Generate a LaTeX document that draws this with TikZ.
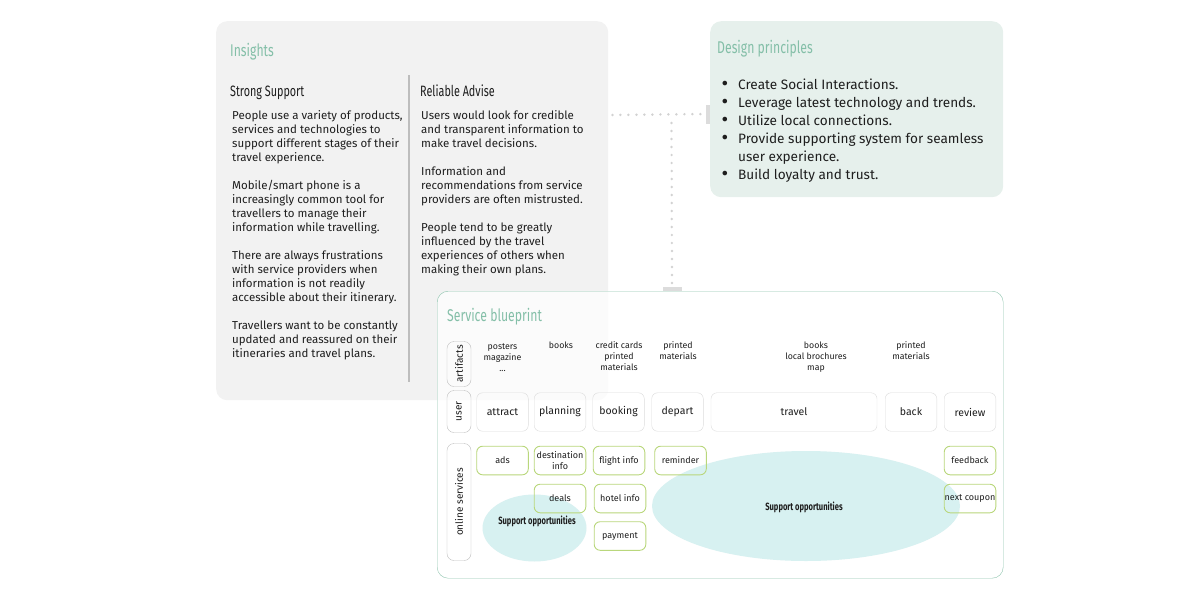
\documentclass[tikz,border=0pt]{standalone}
\usepackage{fontspec}
\setmainfont{Fira Sans}
\newfontfamily\condfont[FakeStretch=0.72]{Fira Sans}
\usetikzlibrary{positioning,shapes.geometric}
\definecolor{panelgray}{HTML}{F2F2F2}
\definecolor{panelgreen}{HTML}{E6F0EC}
\definecolor{tealtext}{HTML}{84BFA8}
\definecolor{tealline}{HTML}{8EC4AE}
\definecolor{oppfill}{HTML}{D7F1F1}
\definecolor{onlinegreen}{HTML}{B9D77C}
\definecolor{boxgray}{HTML}{DCDCDC}
\definecolor{rowgray}{HTML}{BDBDBD}
\definecolor{dotgray}{HTML}{D2D2D2}
\definecolor{inktext}{HTML}{1E1E1E}
\newcommand\pbullet{\llap{\raisebox{-1.6pt}{\scalebox{1.5}{\textbullet}}\hspace{10pt}}}

\begin{document}
\begin{tikzpicture}[x=1pt,y=-1pt,text=inktext,
	panel/.style={rounded corners=11pt,inner sep=0pt,anchor=north west},
	paneltitle/.style={anchor=base west,inner sep=0pt,text=tealtext,font=\condfont\fontsize{17}{17}\selectfont},
	colhead/.style={anchor=base west,inner sep=0pt,font=\condfont\fontsize{15}{15}\selectfont},
	coltext/.style={anchor=base west,inner sep=0pt,align=left,font=\fontsize{11.5}{14}\selectfont},
	dots/.style={draw=dotgray,line width=2.7pt,line cap=round,dash pattern=on 0pt off 8pt},
	tab/.style={fill=boxgray,inner sep=0pt},
	rowlabel/.style={draw=rowgray,rounded corners=7pt,rotate=90,inner sep=0pt,minimum height=24pt,font=\fontsize{10}{10}\selectfont},
	artifact/.style={anchor=base,inner sep=0pt,align=center,font=\fontsize{8.8}{11}\selectfont},
	userbox/.style={draw=boxgray,rounded corners=6pt,minimum width=51.6pt,minimum height=38.5pt,inner sep=0pt,font=\fontsize{10.5}{10.5}\selectfont},
	onlinebox/.style={draw=onlinegreen,line width=0.9pt,rounded corners=6pt,minimum width=51.6pt,minimum height=28.6pt,inner sep=0pt,align=center,font=\fontsize{9}{11}\selectfont},
	opp/.style={ellipse,fill=oppfill,inner sep=0pt},
	opptext/.style={inner sep=0pt,font=\condfont\bfseries\fontsize{10.5}{10.5}\selectfont}]
	\useasboundingbox (0,0) rectangle (1200,600);

	% insights (multi-line texts placed by their last baseline)
	\node[panel,fill=panelgray,minimum width=392pt,minimum height=379pt] (insights) at (216,21) {};
	\node[paneltitle] (insightstitle) at (230,56) {Insights};
	\node[colhead] (strong) at (230,96) {Strong Support};
	\node[colhead] (reliable) at (420,96) {Reliable Advise};
	\draw[rowgray,line width=1.8pt] (409,75) coordinate (div1) -- (409,382) coordinate (div2);
	\node[coltext] (strongtext) at (232,357) {People use a variety of products,\\services and technologies to\\support different stages of their\\travel experience.\\[14pt]Mobile/smart phone is a\\increasingly common tool for\\travellers to manage their\\information while travelling.\\[14pt]There are always frustrations\\with service providers when\\information is not readily\\accessible about their itinerary.\\[14pt]Travellers want to be constantly\\updated and reassured on their\\itineraries and travel plans.};
	\node[coltext] (reliabletext) at (421,273) {Users would look for credible\\and transparent information to\\make travel decisions.\\[14pt]Information and\\recommendations from service\\providers are often mistrusted.\\[14pt]People tend to be greatly\\influenced by the travel\\experiences of others when\\making their own plans.};

	% design principles
	\node[panel,fill=panelgreen,minimum width=293pt,minimum height=176pt] (design) at (710,21) {};
	\node[paneltitle] (designtitle) at (717,53) {Design principles};
	\node[coltext,font=\fontsize{13.6}{18}\selectfont] (principles) at (738,179) {\pbullet Create Social Interactions.\\\pbullet Leverage latest technology and trends.\\\pbullet Utilize local connections.\\\pbullet Provide supporting system for seamless\\user experience.\\\pbullet Build loyalty and trust.};

	% connectors
	\coordinate (junction) at (671.5,115);
	\node[tab,minimum width=4pt,minimum height=19pt] (dtab) at (708,114) {};
	\draw[dots] ([xshift=4pt]insights.east |- junction) -- (dtab.west);
	\draw[dots] ([yshift=-8pt]junction) -- (672,284);

	% service blueprint
	\node[panel,draw=tealline,fill=white,fill opacity=0.7,minimum width=566pt,minimum height=287pt] (blueprint) at (437,291) {};
	\node[tab,minimum width=19pt,minimum height=4pt] (btab) at (672,289) {};
	\node[paneltitle] (blueprinttitle) at (447,321) {Service blueprint};

	\node[opp,minimum width=104pt,minimum height=67pt] (opp1) at (534.5,528) {};
	\node[opp,minimum width=308pt,minimum height=110pt] (opp2) at (806,506) {};
	\node[opptext] (opp1text) at (537,521) {Support opportunities};
	\node[opptext] (opp2text) at (804,507) {Support opportunities};

	\node[rowlabel,minimum width=45pt] (artifacts) at (459,364) {artifacts};
	\node[rowlabel,minimum width=42pt] (user) at (459,411.5) {user};
	\node[rowlabel,minimum width=117pt] (online) at (459,502) {online services};

	\node[artifact] (art1) at (502.5,371) {posters\\magazine\\...};
	\node[artifact] (art2) at (561,348.5) {books};
	\node[artifact] (art3) at (619,370) {credit cards\\printed\\materials};
	\node[artifact] (art4) at (678,359.5) {printed\\materials};
	\node[artifact] (art5) at (816,370) {books\\local brochures\\map};
	\node[artifact] (art6) at (911,359.5) {printed\\materials};

	\node[userbox] (attract) at (502.5,412) {attract};
	\node[userbox] (planning) at (560,412) {planning};
	\node[userbox] (booking) at (618.5,412) {booking};
	\node[userbox] (depart) at (677.5,412) {depart};
	\node[userbox,minimum width=166pt] (travel) at (794,412) {travel};
	\node[userbox] (back) at (911,412) {back};
	\node[userbox] (review) at (970,412) {review};

	\node[onlinebox] (ads) at (502.5,460.5) {ads};
	\node[onlinebox] (destination) at (560,460.5) {destination\\info};
	\node[onlinebox] (flight) at (619,460.5) {flight info};
	\node[onlinebox] (reminder) at (680.5,460.5) {reminder};
	\node[onlinebox] (deals) at (560,498.5) {deals};
	\node[onlinebox] (hotel) at (620,498.5) {hotel info};
	\node[onlinebox] (payment) at (620,536) {payment};
	\node[onlinebox] (feedback) at (970,460.5) {feedback};
	\node[onlinebox] (coupon) at (970,498.5) {next coupon};
\end{tikzpicture}
\end{document}
